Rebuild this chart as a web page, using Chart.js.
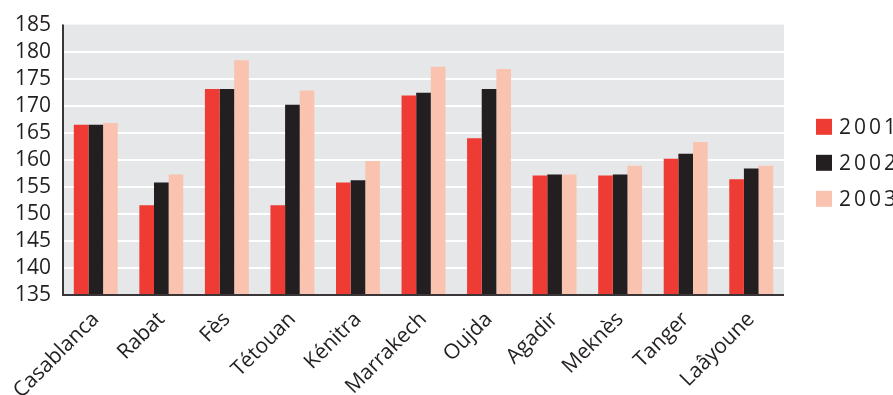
<!DOCTYPE html>
<html>
<head>
<meta charset="utf-8">
<script src="https://cdn.jsdelivr.net/npm/chart.js@4/dist/chart.umd.min.js"></script>
<style>
  html, body { margin: 0; padding: 0; background: #ffffff; }
  #wrap { position: relative; width: 893px; height: 395px; }
</style>
</head>
<body>
<div id="wrap"><canvas id="c" width="893" height="395"></canvas></div>
<script>
// Cities on the category axis
const cities = ['Casablanca', 'Rabat', 'Fès', 'Tétouan', 'Kénitra', 'Marrakech',
                'Oujda', 'Agadir', 'Meknès', 'Tanger', 'Laâyoune'];

// Series labels and values per year
const years = ['2001', '2002', '2003'];
const values2001 = [166.5, 151.6, 173.1, 151.6, 155.8, 171.9, 164.0, 157.1, 157.1, 160.2, 156.4];
const values2002 = [166.5, 155.8, 173.1, 170.2, 156.2, 172.4, 173.1, 157.3, 157.3, 161.1, 158.4];
const values2003 = [166.8, 157.3, 178.4, 172.8, 159.8, 177.2, 176.8, 157.3, 158.9, 163.3, 158.9];

// Value axis range
const yMin = 135;
const yMax = 185;
const yStep = 5;

const seriesColors = ['#ee3b33', '#231f20', '#f9c3b0'];
const textColor = '#231f20';
const fontFamily = '"Open Sans", "Noto Sans", sans-serif';

// Grey plot background behind the bars
const plotBackground = {
  id: 'plotBackground',
  beforeDraw(chart) {
    const { ctx, chartArea: a } = chart;
    ctx.save();
    ctx.fillStyle = '#e6e7e8';
    ctx.fillRect(a.left, a.top, a.right - a.left, a.bottom - a.top);
    ctx.restore();
  }
};

// Dark left and bottom axis lines drawn over the bars
const axisLines = {
  id: 'axisLines',
  afterDatasetsDraw(chart) {
    const { ctx, chartArea: a } = chart;
    ctx.save();
    ctx.strokeStyle = '#3a3536';
    ctx.lineWidth = 2;
    ctx.beginPath();
    ctx.moveTo(a.left, a.top);
    ctx.lineTo(a.left, a.bottom);
    ctx.lineTo(a.right, a.bottom);
    ctx.stroke();
    ctx.restore();
  }
};

// Legend on the right with spaced-out year labels
const sideLegend = {
  id: 'sideLegend',
  afterDraw(chart) {
    const { ctx, chartArea: a } = chart;
    const sets = chart.data.datasets;
    const box = 16, gap = 36;
    const x = a.right + 32;
    const midY = (a.top + a.bottom) / 2;
    const startY = midY - gap * (sets.length - 1) / 2 + 3;
    ctx.save();
    ctx.font = '21px ' + fontFamily;
    ctx.textBaseline = 'middle';
    ctx.textAlign = 'left';
    if ('letterSpacing' in ctx) ctx.letterSpacing = '3px';
    sets.forEach((ds, i) => {
      const cy = startY + i * gap;
      ctx.fillStyle = ds.backgroundColor;
      ctx.fillRect(x, cy - box / 2, box, box);
      ctx.fillStyle = textColor;
      ctx.fillText(ds.label, x + box + 7, cy + 1);
    });
    ctx.restore();
  }
};

new Chart(document.getElementById('c'), {
  type: 'bar',
  data: {
    labels: cities,
    datasets: [
      { label: years[0], data: values2001, backgroundColor: seriesColors[0] },
      { label: years[1], data: values2002, backgroundColor: seriesColors[1] },
      { label: years[2], data: values2003, backgroundColor: seriesColors[2] }
    ]
  },
  plugins: [plotBackground, axisLines, sideLegend],
  options: {
    responsive: false,
    animation: false,
    devicePixelRatio: 1,
    layout: { padding: { top: 21, right: 109, left: 0, bottom: 0 } },
    datasets: {
      bar: { categoryPercentage: 0.67, barPercentage: 1.0, borderWidth: 0 }
    },
    plugins: {
      legend: { display: false },
      tooltip: { enabled: false }
    },
    scales: {
      x: {
        grid: { display: false, drawTicks: false },
        border: { display: false },
        ticks: {
          color: textColor,
          font: { family: fontFamily, size: 21 },
          minRotation: 45,
          maxRotation: 45,
          autoSkip: false,
          padding: 12
        },
        afterFit(scale) { scale.height = 100; }
      },
      y: {
        min: yMin,
        max: yMax,
        grid: {
          color: ctx => (ctx.tick && (ctx.tick.value === yMax || ctx.tick.value === yMin)) ? 'rgba(0,0,0,0)' : '#ffffff',
          lineWidth: 2,
          drawTicks: false
        },
        border: { display: false },
        ticks: {
          stepSize: yStep,
          autoSkip: false,
          color: textColor,
          font: { family: fontFamily, size: 21 },
          padding: 12
        },
        afterFit(scale) { scale.width = 63; }
      }
    }
  }
});
</script>
</body>
</html>
